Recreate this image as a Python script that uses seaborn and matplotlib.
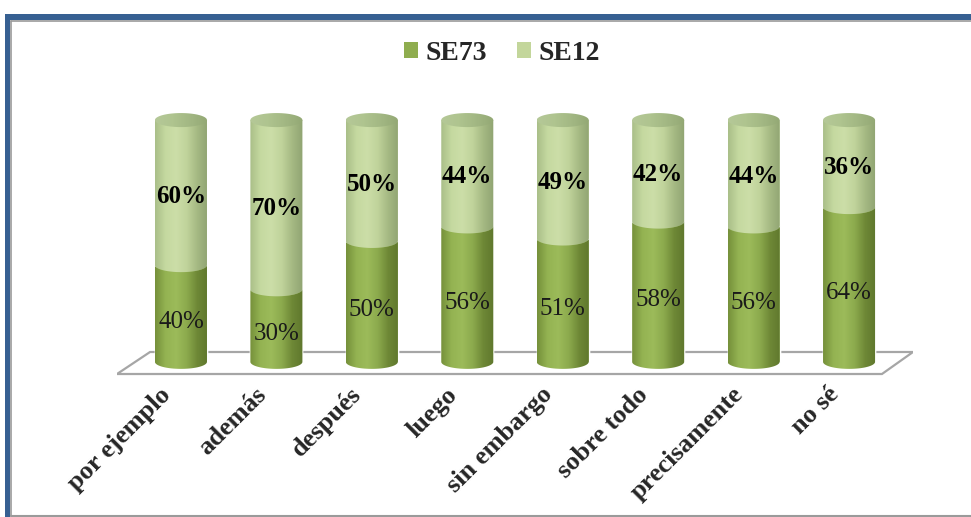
import numpy as np
import pandas as pd
import matplotlib
matplotlib.use("Agg")
import matplotlib.pyplot as plt
import seaborn as sns
from matplotlib.path import Path
from matplotlib.patches import Polygon, Rectangle, Patch
from matplotlib.colors import LinearSegmentedColormap
from matplotlib.transforms import ScaledTranslation

# ---- data -------------------------------------------------------------
categories = ["por ejemplo", "además", "después", "luego",
              "sin embargo", "sobre todo", "precisamente", "no sé"]
se73 = [40, 30, 50, 56, 51, 58, 56, 64]
se12 = [60, 70, 50, 44, 49, 42, 44, 36]
series_names = ["SE73", "SE12"]

# ---- style ------------------------------------------------------------
DARK = "#8FAD4F"
LIGHT = "#C3D69B"
FRAME_BLUE = "#376092"
FLOOR_GREY = "#A6A6A6"

sns.set_theme(style="white")
plt.rcParams["font.family"] = ["Liberation Serif", "DejaVu Serif"]

dark_cmap = LinearSegmentedColormap.from_list(
    "dark_cyl", ["#75903A", "#94B352", "#9CBB5A", "#8CAA4D", "#6E8836", "#5F772D"])
light_cmap = LinearSegmentedColormap.from_list(
    "light_cyl", ["#A9BE88", "#C5D9A0", "#CCDEA8", "#C0D39B", "#A5B983", "#90A472"])
cap_cmap = LinearSegmentedColormap.from_list(
    "cap_cyl", ["#B5C898", "#AFC48F", "#A2B783", "#93A874"])

df = pd.DataFrame({"cat": categories, "SE73": se73, "SE12": se12})
df["total"] = df["SE73"] + df["SE12"]

fig = plt.figure(figsize=(9.71, 5.17), dpi=100)
ax = fig.add_axes([117 / 971, 1 - 380 / 517, 796 / 971, 280 / 517])

BAR_W = 0.545
sns.barplot(data=df, x="cat", y="total", color=LIGHT, width=BAR_W,
            saturation=1, ax=ax, zorder=2)
sns.barplot(data=df, x="cat", y="SE73", color=DARK, width=BAR_W,
            saturation=1, ax=ax, zorder=2)

YMIN, YMAX = -7.5, 108.3

# vertical size of the elliptical ends, in data units
ELL_H = 5.8


def arc(xc, y, half_w, start, stop, n=40):
    t = np.linspace(start, stop, n)
    return np.column_stack([xc + half_w * np.cos(t), y + ELL_H / 2 * np.sin(t)])


def shaded(outline, x0, x1, y0, y1, cmap, z):
    grad = np.linspace(0, 1, 256).reshape(1, -1)
    im = ax.imshow(grad, cmap=cmap, extent=[x0, x1, y0, y1], aspect="auto",
                   origin="lower", zorder=z, interpolation="bilinear")
    verts = np.vstack([outline, outline[:1]])
    im.set_clip_path(Path(verts, closed=True), ax.transData)


light_bars = ax.patches[:len(categories)]
dark_bars = ax.patches[len(categories):2 * len(categories)]

for lb, db in zip(light_bars, dark_bars):
    x0 = lb.get_x()
    w = lb.get_width()
    x1 = x0 + w
    xc = x0 + w / 2
    hw = w / 2
    top = lb.get_height()
    mid = db.get_height()

    # lower (dark) segment: rounded bottom, curved front edge on top
    bottom_arc = arc(xc, 0, hw, np.pi, 2 * np.pi)
    mid_arc_back = arc(xc, mid, hw, 2 * np.pi, np.pi)
    dark_outline = np.vstack([bottom_arc, mid_arc_back])
    shaded(dark_outline, x0, x1, -ELL_H, mid + ELL_H, dark_cmap, 3)

    # upper (light) segment
    mid_arc = arc(xc, mid, hw, np.pi, 2 * np.pi)
    light_outline = np.vstack([[[x0, top]], mid_arc, [[x1, top]]])
    shaded(light_outline, x0, x1, mid - ELL_H, top + ELL_H, light_cmap, 4)

    # top cap
    cap_outline = arc(xc, top, hw, 0, 2 * np.pi, 80)
    shaded(cap_outline, x0, x1, top - ELL_H, top + ELL_H, cap_cmap, 5)

ax.set_ylim(YMIN, YMAX)
ax.set_xlim(-0.67, 7.67)

# floor of the plot area
floor = Polygon([[0.0, 0.0214], [0.0415, 0.10], [1.0, 0.10], [0.961, 0.0214]],
                closed=True, transform=ax.transAxes, facecolor="white",
                edgecolor=FLOOR_GREY, lw=1.6, zorder=1)
ax.add_patch(floor)

# value labels
for i, (a, b) in enumerate(zip(se73, se12)):
    ax.text(i, a / 2 - 3.5, f"{a}%", ha="center", va="center", fontsize=18,
            color="#1A1A1A", zorder=10)
    ax.text(i, a + b / 2 - 1.5, f"{b}%", ha="center", va="center", fontsize=18,
            fontweight="bold", color="black", zorder=10)

for s in ax.spines.values():
    s.set_visible(False)
ax.set_xlabel("")
ax.set_ylabel("")
ax.set_yticks([])
ax.set_xticks(range(len(categories)))
ax.set_xticklabels(categories, rotation=45, ha="right", va="center",
                   rotation_mode="anchor", fontsize=19, fontweight="bold")
ax.tick_params(axis="x", length=0, pad=8)
shift = ScaledTranslation(-14 / 100, 0, fig.dpi_scale_trans)
for lab in ax.get_xticklabels():
    lab.set_transform(lab.get_transform() + shift)

# legend
handles = [Patch(facecolor=DARK, edgecolor="none"),
           Patch(facecolor=LIGHT, edgecolor="none")]
fig.legend(handles, series_names, loc="center", ncol=2, frameon=False,
           bbox_to_anchor=(502 / 971, 1 - 53 / 517),
           prop={"family": ["Liberation Serif"], "weight": "bold", "size": 20},
           handlelength=0.5, handleheight=0.5, handletextpad=0.25,
           columnspacing=1.1)

# chart frame
W, H = 971, 517
fig.patches.append(Rectangle((5 / W, 1 - 20 / H), 1, 6 / H, transform=fig.transFigure,
                             facecolor=FRAME_BLUE, edgecolor="none", zorder=20))
fig.patches.append(Rectangle((5 / W, 0), 5 / W, 1 - 14 / H, transform=fig.transFigure,
                             facecolor=FRAME_BLUE, edgecolor="none", zorder=20))
fig.lines.append(plt.Line2D([10.5 / W, 1], [1 - 21 / H, 1 - 21 / H], transform=fig.transFigure,
                            color="#9A9A9A", lw=1.2))
fig.lines.append(plt.Line2D([10.5 / W, 10.5 / W], [1 - 21 / H, 1.5 / H], transform=fig.transFigure,
                            color="#9A9A9A", lw=1.2))
fig.lines.append(plt.Line2D([10.5 / W, 1], [1.5 / H, 1.5 / H], transform=fig.transFigure,
                            color="#9A9A9A", lw=1.5))

fig.savefig("out.png", dpi=100, facecolor="white")
